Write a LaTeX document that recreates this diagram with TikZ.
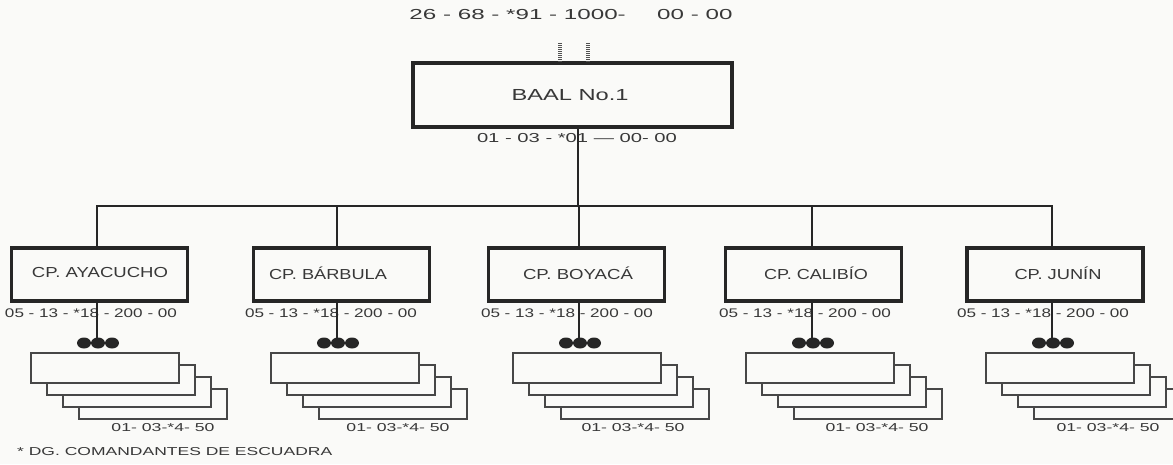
\documentclass[tikz,border=0pt]{standalone}
\usepackage{fontspec}
\setmainfont{Liberation Sans}
\definecolor{ink}{HTML}{262626}
\definecolor{txt}{HTML}{383838}
\definecolor{bg}{HTML}{FAFAF8}
\newcommand\fitw[3]{\resizebox{#1pt}{\height}{\fontsize{#2}{#2}\selectfont #3}}
\tikzset{
  bigbox/.style={draw=ink, line width=3.4pt, fill=bg, inner sep=0pt},
  cpbox/.style={draw=ink, line width=3.6pt, fill=bg, minimum width=176pt, minimum height=53pt, inner sep=0pt},
  txtnode/.style={inner sep=0pt, text=txt, anchor=center},
  bar/.style={draw=ink, line width=2.9pt},
  stk/.style={draw=ink!85, line width=1.7pt, fill=bg},
  ticks/.style={draw=ink!80, line width=4.5pt, dash pattern=on 1.3pt off 0.7pt},
  dotfill/.style={fill=ink}
}
\begin{document}
\begin{tikzpicture}[x=1pt,y=-1pt]
\fill[bg] (0,0) rectangle (1173,464);
\useasboundingbox (0,0) rectangle (1173,464);
% top
\node[txtnode] (top) at (571,15) {\fitw{323}{14.5}{26 - 68 - *91 - 1000-\hspace{1.3em}00 - 00}};
\node[bigbox, minimum width=319pt, minimum height=64pt] (baal) at (572.5,95) {};
\node[txtnode] (baaltxt) at (570,95) {\fitw{117}{16}{BAAL No.1}};
\node[txtnode] (baallab) at (577,138) {\fitw{200}{13}{01 - 03 - *01 — 00- 00}};
\coordinate (m1a) at (560,43); \coordinate (m2a) at (588,43);
\draw[ticks] (m1a) -- (m1a |- baal.north);
\draw[ticks] (m2a) -- (m2a |- baal.north);
% bar
\coordinate (hub) at (578,206);
\coordinate (bl) at (97,206);
\coordinate (br) at (1052,206);
\draw[bar] (baal.south -| hub) -- (hub);
\draw[bar, line cap=rect] (bl) -- (br);
\foreach \i/\v/\bc/\tc/\t/\w/\lc/\sc in {
  1/97/99.5/100/{CP. AYACUCHO}/136/91/163,
  2/337/341.5/328/{CP. BÁRBULA}/118/331/398,
  3/579/576.5/578/{CP. BOYACÁ}/110/567/633,
  4/812/813.5/816/{CP. CALIBÍO}/104/805/877,
  5/1052/1055/1058/{CP. JUNÍN}/87/1043/1108}{
  \coordinate (v\i) at (\v,206);
  \node[cpbox] (cp\i) at (\bc,274.5) {};
  \node[txtnode] (cpt\i) at (\tc,273) {\fitw{\w}{14.5}{\t}};
  \draw[bar] (v\i) -- (v\i |- cp\i.north);
  % stacks
  \foreach \k in {3,2,1,0}{
    \draw[stk] ({\v-66+16*\k},{353+12*\k}) rectangle +(148,30);
  }
  \node[txtnode] (lab\i) at (\lc,313) {\fitw{172}{12.5}{05 - 13 - *18 - 200 - 00}};
  \node[inner sep=0pt, minimum width=42pt, minimum height=10pt] (d\i) at (\v+1,343) {};
  \draw[bar] (v\i |- cp\i.south) -- (v\i |- d\i.center);
  \fill[dotfill] (\v-13,343) ellipse (7 and 5.5);
  \fill[dotfill] (\v+1,343) ellipse (7 and 5.5);
  \fill[dotfill] (\v+15,343) ellipse (7 and 5.5);
  \node[txtnode] (sl\i) at (\sc,428) {\fitw{103}{11.5}{01- 03-*4- 50}};
}
\node[txtnode, anchor=west] (foot) at (17,452) {\fitw{315}{11.5}{* DG. COMANDANTES DE ESCUADRA}};
\end{tikzpicture}
\end{document}
